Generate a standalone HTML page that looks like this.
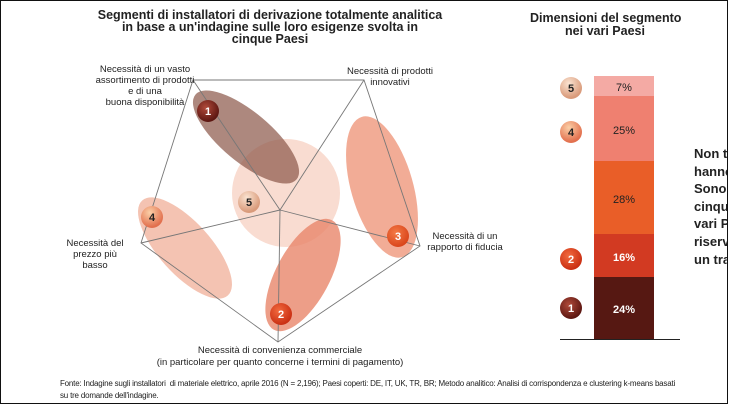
<!DOCTYPE html>
<html><head><meta charset="utf-8"><style>
html,body{margin:0;padding:0;background:#fff;}
body{width:729px;height:404px;overflow:hidden;position:relative;font-family:"Liberation Sans",sans-serif;}
.frame{position:absolute;left:0;top:0;width:727px;height:402px;border:1px solid #111;box-sizing:content-box;}
.t{position:absolute;color:#222;white-space:nowrap;}
.side{position:absolute;left:694px;font-weight:bold;font-size:13px;color:#222;line-height:17.6px;top:145px;}
</style></head><body>
<div class="frame"></div>
<div class="t" style="left:60px;width:420px;top:9px;text-align:center;font-weight:bold;font-size:12.5px;line-height:12px;">Segmenti di installatori di derivazione totalmente analitica<br>in base a un'indagine sulle loro esigenze svolta in<br>cinque Paesi</div>
<div class="t" style="left:530px;width:150px;top:12px;text-align:center;font-weight:bold;font-size:12.5px;line-height:13px;">Dimensioni del segmento<br>nei vari Paesi</div>
<svg width="729" height="404" style="position:absolute;left:0;top:0">
<defs>
<radialGradient id="g1" cx="40%" cy="35%" r="65%"><stop offset="0" stop-color="#b04a3a"/><stop offset="1" stop-color="#5a1510"/></radialGradient>
<radialGradient id="g2" cx="40%" cy="35%" r="65%"><stop offset="0" stop-color="#f26a3e"/><stop offset="1" stop-color="#c92e12"/></radialGradient>
<radialGradient id="g3" cx="40%" cy="35%" r="65%"><stop offset="0" stop-color="#f47a45"/><stop offset="1" stop-color="#d9451b"/></radialGradient>
<radialGradient id="g4" cx="40%" cy="30%" r="65%"><stop offset="0" stop-color="#fbd0a8"/><stop offset="1" stop-color="#e2704e"/></radialGradient>
<radialGradient id="g5" cx="40%" cy="30%" r="65%"><stop offset="0" stop-color="#fbe4d2"/><stop offset="1" stop-color="#d99a7a"/></radialGradient>
</defs>
<circle cx="286" cy="193" r="54" fill="#f8d8cc" opacity="0.9"/>
<ellipse cx="246" cy="137" rx="66" ry="25" transform="rotate(40 246 137)" fill="#8e5a4c" opacity="0.72"/>
<ellipse cx="382" cy="187" rx="31" ry="73" transform="rotate(-16 382 187)" fill="#f0a088" opacity="0.88"/>
<ellipse cx="185" cy="248" rx="64" ry="26" transform="rotate(48 185 248)" fill="#f2b8a4" opacity="0.85"/>
<ellipse cx="303" cy="275" rx="27" ry="62" transform="rotate(28 303 275)" fill="#e8866a" opacity="0.8"/>
<g stroke="#777" stroke-width="0.9" fill="none">
<polygon points="193,80 364,80 420,246 278,342 141,243"/>
<line x1="280" y1="210" x2="193" y2="80"/><line x1="280" y1="210" x2="364" y2="80"/>
<line x1="280" y1="210" x2="420" y2="246"/><line x1="280" y1="210" x2="278" y2="342"/>
<line x1="280" y1="210" x2="141" y2="243"/>
</g>
<g font-family="Liberation Sans" font-weight="bold" font-size="11" text-anchor="middle">
<circle cx="208" cy="111" r="11" fill="url(#g1)"/><text x="208" y="115" fill="#fff">1</text>
<circle cx="249" cy="202" r="11" fill="url(#g5)"/><text x="249" y="206" fill="#222">5</text>
<circle cx="152" cy="217" r="11" fill="url(#g4)"/><text x="152" y="221" fill="#222">4</text>
<circle cx="398" cy="236" r="11" fill="url(#g3)"/><text x="398" y="240" fill="#fff">3</text>
<circle cx="281" cy="314" r="11" fill="url(#g2)"/><text x="281" y="318" fill="#fff">2</text>
<circle cx="571" cy="88" r="11" fill="url(#g5)"/><text x="571" y="92" fill="#222">5</text>
<circle cx="571" cy="132" r="11" fill="url(#g4)"/><text x="571" y="136" fill="#222">4</text>
<circle cx="571" cy="259" r="11" fill="url(#g2)"/><text x="571" y="263" fill="#fff">2</text>
<circle cx="571" cy="308" r="11" fill="url(#g1)"/><text x="571" y="312" fill="#fff">1</text>
</g>
<rect x="594" y="76" width="60" height="20" fill="#f4aaa4"/>
<rect x="594" y="96" width="60" height="65" fill="#ef8070"/>
<rect x="594" y="161" width="60" height="73" fill="#e95e28"/>
<rect x="594" y="234" width="60" height="43" fill="#d23a22"/>
<rect x="594" y="277" width="60" height="62" fill="#561812"/>
<line x1="560" y1="339.5" x2="680" y2="339.5" stroke="#222" stroke-width="1"/>
<g font-family="Liberation Sans" font-size="11" text-anchor="middle">
<text x="624" y="91" fill="#222">7%</text>
<text x="624" y="134" fill="#222">25%</text>
<text x="624" y="203" fill="#222">28%</text>
<text x="624" y="261" fill="#fff" font-weight="bold">16%</text>
<text x="624" y="313" fill="#fff" font-weight="bold">24%</text>
</g>
</svg>
<div class="t" style="left:70px;width:150px;top:64px;text-align:center;font-size:9.5px;line-height:11px;">Necessità di un vasto<br>assortimento di prodotti<br>e di una<br>buona disponibilità</div>
<div class="t" style="left:330px;width:120px;top:66px;text-align:center;font-size:9.5px;line-height:11px;">Necessità di prodotti<br>innovativi</div>
<div class="t" style="left:420px;width:90px;top:231px;text-align:center;font-size:9.5px;line-height:11px;">Necessità di un<br>rapporto di fiducia</div>
<div class="t" style="left:60px;width:70px;top:238px;text-align:center;font-size:9.5px;line-height:11px;">Necessità del<br>prezzo più<br>basso</div>
<div class="t" style="left:130px;width:300px;top:345px;text-align:center;font-size:9.5px;line-height:11.5px;">Necessità di convenienza commerciale<br>(in particolare per quanto concerne i termini di pagamento)</div>
<div class="t" style="left:60px;top:378px;font-size:8px;line-height:12px;letter-spacing:-0.2px;">Fonte: Indagine sugli installatori &nbsp;di materiale elettrico, aprile 2016 (N = 2,196); Paesi coperti: DE, IT, UK, TR, BR; Metodo analitico: Analisi di corrispondenza e clustering k-means basati<br>su tre domande dell'indagine.</div>
<div class="side">Non t<br>hanno<br>Sono<br>cinque<br>vari P<br>riserv<br>un tra</div>
<div style="position:absolute;left:727px;top:0;width:2px;height:404px;background:#fff"></div>
<div style="position:absolute;left:727px;top:0;width:1px;height:404px;background:#111"></div>
</body></html>
